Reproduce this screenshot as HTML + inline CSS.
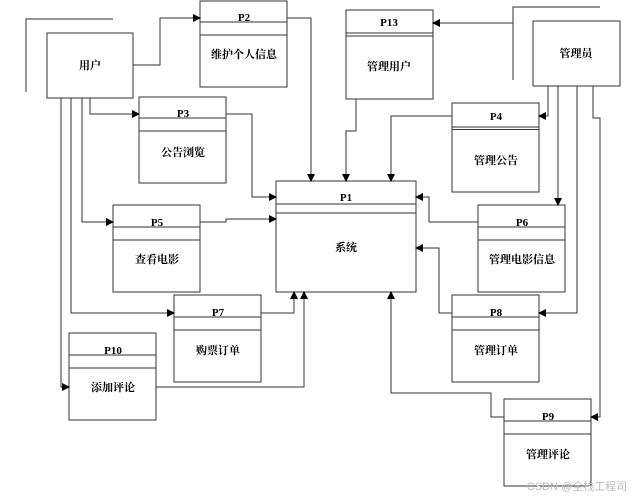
<!DOCTYPE html>
<html><head><meta charset="utf-8"><style>
html,body{margin:0;padding:0;background:#fff;}
svg{display:block;}
text{font-family:"Liberation Serif","Noto Serif CJK SC","Noto Sans CJK SC",serif;font-size:11px;font-weight:bold;fill:#000;text-anchor:middle;}
.c{font-family:"Liberation Serif","Noto Sans CJK SC",sans-serif;}
</style></head><body>
<svg width="634" height="497" viewBox="0 0 634 497" xmlns="http://www.w3.org/2000/svg">
<defs><marker id="a" markerWidth="8" markerHeight="8" refX="7" refY="4" orient="auto" markerUnits="userSpaceOnUse"><path d="M0,0 L8,4 L0,8 z" fill="#000"/></marker></defs>
<g fill="none" stroke="#555" stroke-width="1.2">
<!-- brackets -->
<polyline points="26,92 26,19 113,19"/>
<polyline points="513,80 513,7 600,7"/>
</g>
<g fill="#fff" stroke="#333" stroke-width="1">
<rect x="47" y="33" width="86" height="65"/>
<rect x="533" y="21" width="87" height="65"/>
<rect x="200" y="1" width="87" height="86"/><rect x="200" y="22" width="87" height="13"/>
<rect x="139" y="97" width="87" height="86"/><rect x="139" y="118" width="87" height="13"/>
<rect x="346" y="10" width="87" height="89"/><line x1="346" y1="33" x2="433" y2="33"/><line x1="346" y1="36" x2="433" y2="36"/>
<rect x="452" y="103" width="87" height="89"/><line x1="452" y1="127" x2="539" y2="127"/><line x1="452" y1="129.5" x2="539" y2="129.5"/>
<rect x="276" y="181" width="140" height="111"/><rect x="276" y="204" width="140" height="9"/>
<rect x="478" y="205" width="87" height="87"/><rect x="478" y="227" width="87" height="13"/>
<rect x="113" y="205" width="87" height="87"/><rect x="113" y="227" width="87" height="13"/>
<rect x="174" y="295" width="87" height="87"/><rect x="174" y="317" width="87" height="13"/>
<rect x="69" y="333" width="87" height="87"/><rect x="69" y="355" width="87" height="13"/>
<rect x="452" y="295" width="87" height="87"/><rect x="452" y="317" width="87" height="13"/>
<rect x="504" y="399" width="87" height="87"/><rect x="504" y="421" width="87" height="13"/>
</g>
<g fill="none" stroke="#333" stroke-width="1" marker-end="url(#a)">
<polyline points="133,65 160,65 160,18 200,18"/>
<polyline points="287,18 311,18 311,181"/>
<polyline points="90,98 90,114 139,114"/>
<polyline points="226,114 252,114 252,197 276,197"/>
<polyline points="82,98 82,222 113,222"/>
<polyline points="200,222 226,222 226,219 276,219"/>
<polyline points="71,98 71,313 174,313"/>
<polyline points="261,313 294,313 294,292"/>
<polyline points="61,98 61,387 69,387"/>
<polyline points="156,387 304,387 304,292"/>
<polyline points="513,23 433,23"/>
<polyline points="356,99 356,131 346,131 346,181"/>
<polyline points="452,116 391,116 391,181"/>
<polyline points="548,86 548,116 539,116"/>
<polyline points="558,86 558,205"/>
<polyline points="478,222 429,222 429,197 416,197"/>
<polyline points="452,313 439,313 439,248 416,248"/>
<polyline points="577,86 577,313 539,313"/>
<polyline points="593,86 593,118 600,118 600,417 591,417"/>
<polyline points="504,417 491,417 491,393 391,393 391,292"/>
</g>
<text x="90" y="69">用户</text>
<text x="576" y="57">管理员</text>
<text x="244" y="21">P2</text><text x="244" y="58">维护个人信息</text>
<text x="183" y="117">P3</text><text x="183" y="156">公告浏览</text>
<text x="389" y="26">P13</text><text x="389" y="70">管理用户</text>
<text x="496" y="120">P4</text><text x="496" y="164">管理公告</text>
<text x="346" y="201">P1</text><text x="346" y="251">系统</text>
<text x="522" y="226">P6</text><text x="522" y="263">管理电影信息</text>
<text x="157" y="226">P5</text><text x="157" y="263">查看电影</text>
<text x="218" y="316">P7</text><text x="218" y="354">购票订单</text>
<text x="113" y="354">P10</text><text x="113" y="391">添加评论</text>
<text x="496" y="316">P8</text><text x="496" y="354">管理订单</text>
<text x="548" y="420">P9</text><text x="548" y="458">管理评论</text>
<text class="c" x="577" y="490" style="font-weight:normal;font-size:11px;fill:#bbb;font-family:'Liberation Sans','Noto Sans CJK SC',sans-serif">CSDN @全栈工程司</text>
</svg>
</body></html>
